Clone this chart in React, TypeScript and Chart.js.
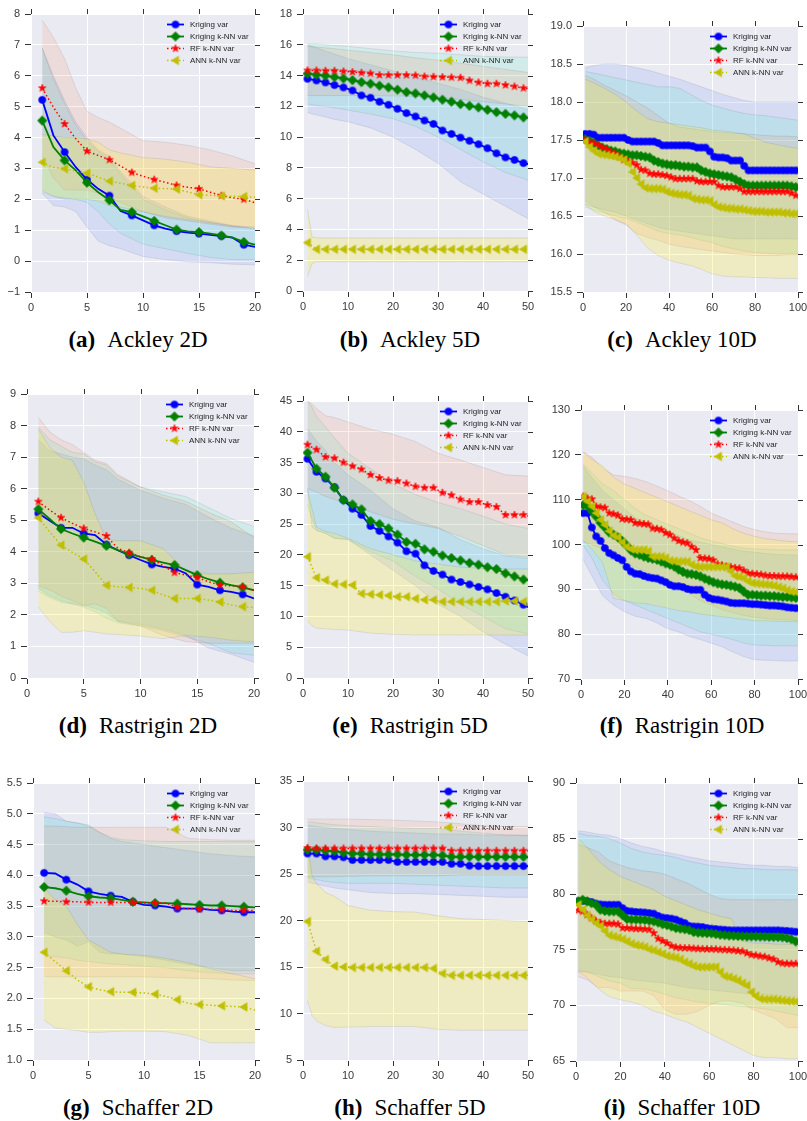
import React, { useEffect, useRef } from 'react';
import { Chart, registerables } from 'chart.js';
Chart.register(...registerables);
Chart.defaults.font.family = '"Liberation Sans", Arial, sans-serif';

// ---------------- x values ----------------
const X2 = [1,2,3,4,5,6,7,8,9,10,11,12,13,14,15,16,17,18,19,20];
const B2 = [1,2,3,4,5,6,7,8,10,12,14,16,18,20];
const X5 = [1,3,5,7,9,11,13,15,17,19,21,23,25,27,29,31,33,35,37,39,41,43,45,47,49,50];
const B5 = [1,2,3,5,7,10,15,20,25,30,35,40,45,50];
const X10 = [1,3,5,7,9,11,13,15,17,19,21,23,25,27,29,31,33,35,37,39,41,43,45,47,49,51,53,55,57,59,61,63,65,67,69,71,73,75,77,79,81,83,85,87,89,91,93,95,97,99,100];
const B10 = [1,5,10,15,20,25,30,35,40,45,50,55,60,65,70,75,80,85,90,95,100];

const SERIES_LABELS = ['Kriging var', 'Kriging k-NN var', 'RF k-NN var', 'ANN k-NN var'];

// ---------------- (a) Ackley 2D ----------------
const A_KRIG = [5.22,4.07,3.53,3.04,2.64,2.34,2.12,1.62,1.48,1.32,1.16,1.05,0.97,0.92,0.89,0.85,0.81,0.76,0.53,0.46];
const A_KNN = [4.55,3.69,3.26,2.94,2.54,2.23,1.97,1.66,1.59,1.45,1.30,1.16,1.02,0.96,0.94,0.89,0.83,0.76,0.62,0.53];
const A_RF = [5.60,4.98,4.44,3.96,3.56,3.42,3.28,3.08,2.87,2.75,2.64,2.55,2.45,2.39,2.34,2.23,2.12,2.05,2.00,1.89];
const A_ANN = [3.20,3.04,2.99,2.92,2.85,2.72,2.59,2.52,2.45,2.40,2.36,2.35,2.33,2.24,2.15,2.13,2.11,2.10,2.09,2.07];
const A_KRIG_HI = [6.9,6.0,5.2,4.5,4.0,3.6,3.4,2.9,2.1,1.75,1.45,1.3,1.15,1.05];
const A_KRIG_LO = [2.2,1.8,1.75,1.6,1.1,0.65,0.5,0.4,0.15,0.05,-0.02,-0.05,-0.1,-0.12];
const A_KNN_HI = [6.9,5.9,5.1,4.4,3.9,3.55,3.3,2.8,2.0,1.65,1.4,1.25,1.12,1.05];
const A_KNN_LO = [2.3,2.1,2.0,2.0,1.9,1.6,1.2,0.9,0.55,0.4,0.25,0.12,0.05,0.05];
const A_RF_HI = [7.8,7.25,6.55,5.6,4.85,4.65,4.5,4.3,3.9,3.85,3.75,3.6,3.4,3.15];
const A_RF_LO = [3.4,2.7,2.3,2.3,2.3,2.2,2.05,1.9,1.6,1.4,1.3,1.2,1.1,1.1];
const A_ANN_HI = [4.1,4.05,4.0,4.0,3.95,3.85,3.6,3.5,3.35,3.3,3.2,3.05,3.0,2.95];
const A_ANN_LO = [2.25,2.1,2.05,2.0,2.0,1.95,1.8,1.75,1.6,1.45,1.35,1.25,1.15,1.1];

// ---------------- (b) Ackley 5D ----------------
const B_KRIG = [13.79,13.68,13.55,13.38,13.23,13.03,12.71,12.56,12.30,12.10,11.84,11.56,11.34,11.08,10.86,10.43,10.21,9.97,9.76,9.54,9.28,8.95,8.68,8.52,8.31,8.25];
const B_KNN = [14.12,14.05,13.99,13.90,13.81,13.70,13.57,13.47,13.34,13.23,13.08,12.92,12.84,12.71,12.58,12.43,12.30,12.14,12.03,11.93,11.77,11.62,11.51,11.41,11.28,11.25];
const B_RF = [14.33,14.33,14.31,14.31,14.27,14.23,14.18,14.14,14.03,14.03,14.03,14.03,14.01,13.94,13.92,13.90,13.88,13.86,13.68,13.55,13.47,13.47,13.38,13.29,13.18,13.15];
const B_ANN = [3.14,2.71,2.71,2.71,2.71,2.71,2.71,2.71,2.71,2.71,2.71,2.71,2.71,2.71,2.71,2.71,2.71,2.71,2.71,2.71,2.71,2.71,2.71,2.71,2.71,2.71];
const B_KRIG_HI = [16.0,15.9,15.8,15.6,15.4,15.1,14.7,14.3,13.9,13.5,13.1,12.6,12.2,11.8];
const B_KRIG_LO = [11.6,11.5,11.45,11.3,11.15,11.0,10.6,10.0,9.2,8.3,7.1,6.3,5.5,4.7];
const B_KNN_HI = [16.05,16.05,16.05,16.0,15.95,15.9,15.75,15.6,15.5,15.45,15.35,15.25,15.2,15.2];
const B_KNN_LO = [12.15,12.1,12.05,12.0,11.9,11.75,11.5,11.2,10.7,10.0,9.2,8.4,7.7,7.2];
const B_RF_HI = [15.9,15.88,15.85,15.8,15.75,15.65,15.5,15.35,15.15,15.0,14.8,14.6,14.4,14.2];
const B_RF_LO = [12.7,12.7,12.7,12.7,12.7,12.7,12.7,12.68,12.65,12.6,12.45,12.3,12.15,12.0];
const B_ANN_HI = [5.3,3.5,3.45,3.45,3.45,3.45,3.45,3.45,3.45,3.45,3.45,3.45,3.45,3.45];
const B_ANN_LO = [0.93,1.8,1.9,1.9,1.9,1.9,1.9,1.9,1.9,1.9,1.9,1.9,1.9,1.9];

// ---------------- (c) Ackley 10D ----------------
const C_KRIG = [17.58,17.58,17.57,17.53,17.53,17.53,17.53,17.53,17.53,17.53,17.50,17.48,17.48,17.48,17.48,17.48,17.48,17.46,17.43,17.43,17.43,17.43,17.43,17.43,17.43,17.42,17.40,17.40,17.40,17.35,17.28,17.27,17.27,17.26,17.23,17.23,17.23,17.16,17.10,17.10,17.10,17.10,17.10,17.10,17.10,17.10,17.10,17.10,17.10,17.10,17.10];
const C_KNN = [17.51,17.49,17.46,17.43,17.40,17.38,17.36,17.35,17.33,17.32,17.31,17.30,17.30,17.29,17.28,17.27,17.23,17.21,17.19,17.18,17.17,17.17,17.16,17.15,17.15,17.14,17.14,17.10,17.08,17.06,17.05,17.04,17.03,17.02,17.01,16.98,16.95,16.92,16.90,16.90,16.90,16.90,16.90,16.90,16.90,16.90,16.90,16.90,16.89,16.88,16.88];
const C_RF = [17.50,17.47,17.46,17.43,17.40,17.38,17.34,17.32,17.28,17.24,17.22,17.20,17.17,17.11,17.10,17.06,17.05,17.05,17.04,17.03,17.01,16.99,16.99,16.99,16.99,16.99,16.96,16.95,16.95,16.95,16.95,16.90,16.88,16.88,16.88,16.88,16.86,16.82,16.82,16.82,16.82,16.82,16.82,16.82,16.82,16.82,16.82,16.82,16.80,16.77,16.77];
const C_ANN = [17.48,17.41,17.36,17.32,17.31,17.30,17.29,17.28,17.26,17.24,17.19,17.08,17.00,16.92,16.87,16.86,16.86,16.86,16.85,16.82,16.80,16.79,16.78,16.78,16.77,16.73,16.72,16.71,16.71,16.70,16.65,16.62,16.61,16.60,16.60,16.59,16.59,16.58,16.57,16.56,16.56,16.56,16.55,16.55,16.55,16.55,16.54,16.54,16.53,16.53,16.53];
const C_KRIG_HI = [18.45,18.48,18.50,18.50,18.48,18.45,18.42,18.38,18.34,18.30,18.25,18.20,18.15,18.10,18.06,18.02,18.00,18.00,18.00,18.00,18.00];
const C_KRIG_LO = [16.70,16.62,16.58,16.55,16.50,16.45,16.40,16.35,16.32,16.30,16.28,16.26,16.24,16.22,16.20,16.20,16.20,16.20,16.20,16.20,16.20];
const C_KNN_HI = [18.40,18.38,18.35,18.32,18.29,18.26,18.23,18.20,18.20,18.18,18.10,18.02,17.96,17.92,17.88,17.85,17.83,17.82,17.80,17.78,17.76];
const C_KNN_LO = [16.62,16.58,16.54,16.50,16.47,16.42,16.36,16.30,16.27,16.25,16.22,16.18,16.15,16.10,16.07,16.04,16.02,16.01,16.00,16.00,16.00];
const C_RF_HI = [18.35,18.30,18.22,18.15,18.08,18.00,17.92,17.82,17.72,17.67,17.65,17.63,17.61,17.60,17.59,17.58,17.57,17.56,17.55,17.55,17.54];
const C_RF_LO = [16.65,16.62,16.55,16.45,16.38,16.27,16.22,16.18,16.13,16.10,16.08,16.06,16.04,16.02,16.00,15.99,15.98,15.98,15.98,15.99,15.99];
const C_ANN_HI = [18.30,18.25,18.18,18.10,18.00,17.88,17.78,17.74,17.72,17.70,17.68,17.66,17.63,17.62,17.60,17.58,17.52,17.47,17.44,17.41,17.39];
const C_ANN_LO = [16.66,16.56,16.50,16.45,16.40,16.25,16.08,15.98,15.92,15.88,15.85,15.80,15.74,15.71,15.70,15.70,15.69,15.69,15.68,15.68,15.68];

// ---------------- (d) Rastrigin 2D ----------------
const D_KRIG = [5.22,4.98,4.76,4.76,4.58,4.53,4.23,4.05,3.89,3.74,3.60,3.52,3.47,3.31,2.96,2.89,2.78,2.73,2.65,2.52];
const D_KNN = [5.35,5.04,4.72,4.58,4.45,4.32,4.19,4.05,3.93,3.84,3.74,3.66,3.58,3.42,3.26,3.13,3.02,2.94,2.87,2.78];
const D_RF = [5.59,5.32,5.08,4.90,4.74,4.63,4.50,4.11,3.97,3.84,3.77,3.56,3.34,3.26,3.18,3.05,2.94,2.92,2.89,2.78];
const D_ANN = [5.08,4.63,4.21,3.98,3.77,3.37,2.94,2.89,2.87,2.84,2.78,2.63,2.52,2.52,2.52,2.47,2.41,2.31,2.26,2.24];
const D_KRIG_HI = [7.55,7.2,7.1,7.0,6.95,6.75,6.6,6.3,5.95,5.7,5.5,5.1,4.75,4.5];
const D_KRIG_LO = [2.85,2.6,2.45,2.35,2.3,2.2,2.05,1.8,1.7,1.55,1.35,0.95,0.75,0.5];
const D_KNN_HI = [7.95,7.55,7.35,7.15,7.1,6.85,6.75,6.4,6.05,5.9,5.75,5.4,5.05,4.8];
const D_KNN_LO = [2.75,2.55,2.4,2.35,2.25,2.1,1.9,1.75,1.65,1.5,1.3,1.1,0.8,0.72];
const D_RF_HI = [8.26,7.8,7.55,7.4,7.15,6.9,6.8,6.45,6.05,5.8,5.6,5.25,4.95,4.45];
const D_RF_LO = [2.92,2.8,2.6,2.45,2.3,2.35,2.2,1.8,1.65,1.35,1.15,1.1,1.1,1.1];
const D_ANN_HI = [7.9,7.3,7.0,6.9,6.2,5.2,4.4,4.35,4.35,4.1,3.4,3.3,3.3,3.35];
const D_ANN_LO = [2.25,1.8,1.45,1.45,1.5,1.45,1.4,1.38,1.33,1.25,1.35,1.3,1.2,1.15];

// ---------------- (e) Rastrigin 5D ----------------
const E_KRIG = [35.6,33.5,32.4,31.0,28.9,27.5,26.5,24.7,23.9,23.0,22.0,20.6,20.2,18.3,17.4,16.8,16.0,15.6,15.2,14.8,14.4,13.8,13.2,12.6,11.9,11.5];
const E_KNN = [36.6,34.0,32.7,30.9,28.9,28.2,27.4,25.5,25.0,24.3,23.3,22.1,21.8,20.9,20.5,19.9,19.5,19.1,18.7,18.4,18.0,17.7,17.0,16.5,16.0,15.9];
const E_RF = [37.9,37.1,35.9,35.7,35.0,34.4,33.9,33.0,32.5,32.1,32.0,31.6,31.1,30.9,30.9,30.1,29.7,29.0,28.6,28.6,28.1,27.8,26.5,26.5,26.5,26.3];
const E_ANN = [19.7,16.3,15.9,15.3,15.2,15.1,13.7,13.6,13.5,13.4,13.2,13.2,12.9,12.7,12.7,12.4,12.4,12.4,12.4,12.4,12.4,12.4,12.5,12.5,12.4,12.4];
const E_KRIG_HI = [40.5,39.5,38.5,37.0,35.0,33.0,30.5,27.5,25.5,24.5,22.5,21.0,19.8,19.4];
const E_KRIG_LO = [30.7,24.5,24.0,23.5,22.7,22.5,20.0,17.5,15.0,12.0,10.0,7.5,5.5,3.6];
const E_KNN_HI = [45.0,44.0,42.5,40.8,39.0,36.5,34.0,31.5,29.8,28.5,27.5,26.3,25.0,24.3];
const E_KNN_LO = [28.2,26.0,24.0,23.5,22.7,22.5,20.5,19.0,16.5,14.5,12.0,10.0,8.0,7.2];
const E_RF_HI = [45.0,44.5,43.8,42.6,42.3,41.6,40.4,39.6,38.4,36.5,35.4,34.2,33.0,32.8];
const E_RF_LO = [30.8,30.5,30.2,29.5,29.0,28.3,27.0,25.8,25.0,24.3,23.0,21.5,20.0,19.6];
const E_ANN_HI = [30.5,27.5,24.5,23.8,23.5,22.7,21.0,20.0,19.0,18.5,18.0,17.8,17.7,17.7];
const E_ANN_LO = [9.3,8.5,8.1,8.0,7.9,7.8,7.3,7.1,7.0,7.0,7.0,7.0,7.0,7.0];

// ---------------- (f) Rastrigin 10D ----------------
const F_KRIG = [107.0,107.0,103.8,101.8,100.8,99.2,98.1,97.6,97.0,96.5,95.0,94.0,93.5,93.4,93.0,92.7,92.5,92.4,92.0,91.6,91.0,90.7,90.7,90.5,90.1,89.9,89.9,89.9,88.8,88.1,87.8,87.7,87.5,87.3,87.0,86.9,86.9,86.9,86.8,86.7,86.7,86.6,86.5,86.4,86.4,86.3,86.2,86.0,85.9,85.8,85.8];
const F_KNN = [108.8,108.5,107.4,106.2,104.8,103.8,102.7,102.2,101.6,100.8,99.8,98.7,98.0,97.7,97.3,97.0,96.8,96.6,96.2,95.8,95.5,95.1,94.4,93.9,93.5,93.4,93.2,92.9,92.4,92.0,91.6,91.3,91.1,91.0,90.8,90.6,90.3,89.5,88.8,88.8,88.7,88.6,88.6,88.5,88.5,88.4,88.3,88.3,88.2,88.1,88.1];
const F_RF = [110.7,110.3,110.1,108.5,108.3,108.2,107.0,106.8,106.5,105.7,105.6,105.5,104.8,104.7,104.6,104.5,103.6,103.5,103.3,102.6,102.2,101.4,100.8,100.5,100.3,99.5,98.8,97.0,96.9,96.8,96.5,95.6,95.4,95.1,95.0,94.8,94.7,94.2,93.6,93.5,93.4,93.3,93.1,93.0,93.0,92.9,92.9,92.9,92.8,92.7,92.7];
const F_ANN = [110.7,109.6,108.5,107.0,105.5,104.4,103.0,102.0,101.6,100.5,99.5,99.0,98.8,98.8,98.8,98.5,97.3,97.3,97.3,97.0,96.4,96.3,96.2,96.2,96.2,95.5,95.1,95.0,95.0,95.0,95.0,95.0,95.0,95.0,94.0,93.0,92.8,92.5,91.8,91.4,91.3,91.2,91.1,91.0,90.8,90.5,90.2,89.8,89.5,89.4,89.4];
const F_KRIG_HI = [117.5,115.0,112.0,110.0,108.0,106.0,105.0,104.0,103.0,102.0,101.0,100.5,100.0,99.5,99.0,98.5,98.3,98.0,97.8,97.7,97.6];
const F_KRIG_LO = [96.7,93.0,88.5,86.5,85.0,84.0,83.5,82.5,81.2,80.5,79.5,78.8,78.0,77.2,76.0,75.0,74.3,74.2,74.1,74.0,74.0];
const F_KNN_HI = [118.0,116.0,113.5,112.0,110.0,108.0,106.5,105.5,104.5,103.5,102.5,101.5,100.8,100.2,99.6,99.2,99.0,98.9,98.8,98.8,98.8];
const F_KNN_LO = [99.8,97.0,92.0,89.0,87.5,86.5,85.5,84.5,83.5,82.5,81.5,80.5,80.0,79.4,78.8,78.0,77.6,77.5,77.4,77.4,77.4];
const F_RF_HI = [120.7,119.5,117.0,115.5,115.2,114.7,114.0,113.0,112.0,110.8,109.8,108.5,107.0,106.0,105.0,104.0,103.3,102.8,102.5,102.4,102.4];
const F_RF_LO = [100.7,100.0,99.0,97.0,96.0,95.0,94.0,93.0,92.0,90.5,89.0,87.5,86.5,85.5,84.8,84.2,83.8,83.5,83.3,83.2,83.0];
const F_ANN_HI = [120.5,119.0,117.5,115.0,113.5,112.5,111.5,110.5,109.5,108.5,107.5,106.5,105.5,104.8,103.5,102.5,101.8,101.3,101.0,100.7,100.6];
const F_ANN_LO = [101.0,99.0,96.0,88.0,87.5,87.0,86.8,86.3,85.8,85.3,85.0,84.5,84.2,83.9,83.6,83.3,83.0,83.0,82.9,82.8,82.8];

// ---------------- (g) Schaffer 2D ----------------
const G_KRIG = [4.04,4.03,3.93,3.85,3.74,3.70,3.67,3.65,3.57,3.52,3.51,3.49,3.46,3.46,3.46,3.44,3.43,3.41,3.40,3.40];
const G_KNN = [3.81,3.79,3.75,3.70,3.66,3.64,3.63,3.60,3.57,3.56,3.55,3.55,3.54,3.53,3.52,3.51,3.51,3.50,3.49,3.48];
const G_RF = [3.58,3.58,3.57,3.57,3.56,3.56,3.56,3.56,3.56,3.55,3.55,3.55,3.48,3.46,3.45,3.45,3.44,3.43,3.43,3.43];
const G_ANN = [2.75,2.60,2.45,2.30,2.19,2.14,2.11,2.10,2.10,2.09,2.07,2.03,1.98,1.92,1.90,1.89,1.88,1.87,1.86,1.81];
const G_KRIG_HI = [5.02,5.0,4.88,4.85,4.8,4.7,4.6,4.55,4.5,4.45,4.4,4.35,4.32,4.3];
const G_KRIG_LO = [3.07,3.0,2.95,2.85,2.92,2.75,2.72,2.72,2.68,2.62,2.55,2.5,2.45,2.45];
const G_KNN_HI = [4.95,4.92,4.88,4.85,4.82,4.7,4.62,4.58,4.56,4.55,4.55,4.55,4.55,4.55];
const G_KNN_LO = [2.69,2.68,2.66,2.62,2.6,2.58,2.56,2.55,2.52,2.5,2.45,2.42,2.4,2.4];
const G_RF_HI = [4.8,4.8,4.79,4.78,4.78,4.78,4.78,4.78,4.78,4.78,4.6,4.58,4.57,4.57];
const G_RF_LO = [2.36,2.35,2.35,2.35,2.35,2.35,2.35,2.35,2.35,2.34,2.33,2.32,2.3,2.29];
const G_ANN_HI = [3.8,3.6,3.5,3.2,2.95,2.85,2.75,2.72,2.7,2.65,2.58,2.48,2.4,2.32];
const G_ANN_LO = [1.65,1.52,1.5,1.48,1.45,1.45,1.46,1.47,1.47,1.46,1.4,1.28,1.28,1.28];

// ---------------- (h) Schaffer 5D ----------------
const H_KRIG = [27.2,27.2,26.9,26.9,26.8,26.5,26.5,26.5,26.5,26.5,26.3,26.3,26.3,26.3,26.3,26.3,26.1,26.1,25.9,25.85,25.85,25.85,25.85,25.85,25.85,25.85];
const H_KNN = [27.6,27.6,27.5,27.45,27.3,27.2,27.2,27.1,27.1,27.1,27.1,27.05,27.05,27.05,27.05,27.0,26.85,26.85,26.85,26.85,26.85,26.85,26.85,26.85,26.85,26.8];
const H_RF = [27.8,27.75,27.75,27.75,27.75,27.75,27.75,27.75,27.75,27.75,27.75,27.75,27.75,27.75,27.75,27.75,27.5,27.5,27.5,27.5,27.5,27.5,27.5,27.5,27.5,27.5];
const H_ANN = [19.9,16.7,15.8,15.1,15.0,14.95,14.95,14.95,14.95,14.95,14.95,14.95,14.95,14.95,14.85,14.3,14.1,14.1,14.1,14.1,14.1,14.1,14.1,14.1,14.1,14.1];
const H_KRIG_HI = [30.2,30.2,30.1,30.0,29.9,29.8,29.6,29.5,29.4,29.3,29.3,29.2,29.2,29.2];
const H_KRIG_LO = [24.2,24.0,23.9,23.7,23.5,23.3,23.0,22.9,22.9,22.8,22.7,22.6,22.5,22.5];
const H_KNN_HI = [30.6,30.6,30.5,30.4,30.3,30.2,30.1,30.0,29.9,29.9,29.6,29.4,29.2,29.1];
const H_KNN_LO = [24.6,24.5,24.4,24.2,24.1,24.0,24.0,24.0,23.9,23.8,23.7,23.6,23.5,23.5];
const H_RF_HI = [30.9,30.9,30.9,30.9,30.9,30.9,30.85,30.8,30.7,30.6,30.4,30.2,30.1,30.1];
const H_RF_LO = [24.7,24.7,24.7,24.7,24.7,24.75,24.8,24.8,24.8,24.8,24.9,24.9,24.9,24.9];
const H_ANN_HI = [28.4,24.8,24.0,23.0,22.6,21.6,21.1,20.95,20.9,20.5,20.2,20.1,20.0,19.9];
const H_ANN_LO = [11.4,9.8,9.2,8.7,8.5,8.55,8.6,8.6,8.6,8.3,8.2,8.2,8.2,8.2];

// ---------------- (i) Schaffer 10D ----------------
const I_KRIG = [79.36,79.40,79.38,79.30,79.15,79.08,79.05,79.05,79.05,79.05,78.75,78.50,78.45,78.40,78.38,78.35,78.30,78.25,78.05,77.90,77.85,77.80,77.71,77.55,77.40,77.15,77.10,77.08,77.05,76.95,76.90,76.87,76.82,76.80,76.76,76.75,76.75,76.75,76.75,76.75,76.75,76.75,76.75,76.75,76.75,76.75,76.72,76.70,76.66,76.62,76.60];
const I_KNN = [79.36,79.50,79.35,79.20,79.05,78.60,78.50,78.45,78.45,78.45,78.10,77.77,77.72,77.72,77.70,77.68,77.62,77.56,77.45,77.30,77.22,77.10,76.96,76.90,76.85,76.78,76.60,76.55,76.52,76.50,76.48,76.42,76.35,76.32,76.28,76.26,76.24,76.22,76.20,76.20,76.20,76.18,76.18,76.16,76.15,76.15,76.12,76.06,75.95,75.75,75.67];
const I_RF = [78.55,78.45,78.15,77.85,77.60,77.45,77.35,77.35,77.35,77.30,76.96,76.95,76.92,76.90,76.88,76.85,76.82,76.50,76.00,75.80,75.60,75.35,75.22,75.18,75.16,75.15,75.12,75.10,75.08,75.07,75.06,75.05,75.02,75.00,74.98,74.95,74.90,74.86,74.70,74.55,74.50,74.42,74.38,74.25,74.15,73.90,73.78,73.76,73.75,73.75,73.75];
const I_ANN = [79.05,78.60,78.10,77.75,77.40,77.15,76.70,76.30,76.20,76.10,75.95,75.76,75.55,75.42,75.35,75.25,75.05,74.95,74.80,74.65,74.45,74.38,74.30,74.15,73.90,73.75,73.55,73.45,73.45,73.45,73.45,73.45,73.00,72.62,72.55,72.40,72.25,72.00,71.80,71.20,70.85,70.60,70.55,70.55,70.55,70.50,70.45,70.40,70.38,70.36,70.36];
const I_KRIG_HI = [85.7,85.6,85.4,85.3,85.0,84.6,84.3,84.1,83.8,83.6,83.4,83.2,83.0,82.9,82.8,82.7,82.6,82.6,82.5,82.5,82.4];
const I_KRIG_LO = [73.0,73.0,72.8,72.6,72.5,72.3,72.2,72.1,72.0,71.8,71.6,71.5,71.4,71.3,71.2,71.1,71.0,71.0,70.9,70.8,70.8];
const I_KNN_HI = [85.5,85.3,85.2,85.0,84.6,84.1,83.8,83.6,83.5,83.3,83.0,82.8,82.6,82.5,82.4,82.3,82.3,82.2,82.2,82.2,82.2];
const I_KNN_LO = [73.2,73.0,72.6,72.2,72.0,71.5,71.5,71.3,71.0,70.7,70.5,70.3,70.2,70.1,70.0,69.9,69.8,69.7,69.5,69.3,69.1];
const I_RF_HI = [84.5,84.2,83.8,83.0,82.6,82.3,82.1,82.0,81.8,81.4,81.0,80.5,80.0,79.6,79.5,79.5,79.5,79.5,79.5,79.5,79.5];
const I_RF_LO = [72.6,72.3,71.6,71.6,71.3,71.3,71.3,70.9,69.6,69.2,69.2,69.5,70.0,70.4,70.4,70.2,69.6,69.2,68.8,68.0,68.0];
const I_ANN_HI = [85.0,84.2,83.0,82.2,81.6,81.2,80.8,80.4,79.8,79.4,79.0,78.6,78.3,78.0,77.8,75.8,75.6,75.6,75.5,75.5,75.5];
const I_ANN_LO = [73.1,72.5,71.5,70.8,70.5,70.3,70.0,69.5,69.2,68.8,68.5,68.0,67.5,67.0,66.5,66.0,65.5,65.3,65.3,65.2,65.2];

// ---------------- styles ----------------
const STYLES = [
  { color: '#0000ff', fill: 'rgba(80,130,255,0.14)', dash: [], width: 1.8, marker: 'circle' },
  { color: '#008000', fill: 'rgba(60,240,190,0.15)', dash: [], width: 1.8, marker: 'diamond' },
  { color: '#ff0000', fill: 'rgba(255,120,70,0.13)', dash: [1.5, 2.5], width: 1.5, marker: 'star' },
  { color: '#bfbf00', fill: 'rgba(250,240,50,0.25)', dash: [1.5, 2.5], width: 1.5, marker: 'tri' },
];

const PANELS = [
  { rect: [31, 14, 255, 292], xMax: 20, xStep: 5, yMin: -1, yMax: 8, yStep: 1, dec: 0, mx: X2, bx: B2, marks: 'odd',
    means: [A_KRIG, A_KNN, A_RF, A_ANN], bands: [[A_KRIG_LO, A_KRIG_HI], [A_KNN_LO, A_KNN_HI], [A_RF_LO, A_RF_HI], [A_ANN_LO, A_ANN_HI]],
    tag: '(a)', title: 'Ackley 2D', cx: 138, cy: 328 },
  { rect: [303, 14, 528, 291], xMax: 50, xStep: 10, yMin: 0, yMax: 18, yStep: 2, dec: 0, mx: X5, bx: B5, marks: 'most',
    means: [B_KRIG, B_KNN, B_RF, B_ANN], bands: [[B_KRIG_LO, B_KRIG_HI], [B_KNN_LO, B_KNN_HI], [B_RF_LO, B_RF_HI], [B_ANN_LO, B_ANN_HI]],
    tag: '(b)', title: 'Ackley 5D', cx: 410, cy: 328 },
  { rect: [583, 26, 798, 292], xMax: 100, xStep: 20, yMin: 15.5, yMax: 19, yStep: 0.5, dec: 1, mx: X10, bx: B10, marks: 'most',
    means: [C_KRIG, C_KNN, C_RF, C_ANN], bands: [[C_KRIG_LO, C_KRIG_HI], [C_KNN_LO, C_KNN_HI], [C_RF_LO, C_RF_HI], [C_ANN_LO, C_ANN_HI]],
    tag: '(c)', title: 'Ackley 10D', cx: 682, cy: 328 },
  { rect: [27, 394, 254, 678], xMax: 20, xStep: 5, yMin: 0, yMax: 9, yStep: 1, dec: 0, mx: X2, bx: B2, marks: 'odd',
    means: [D_KRIG, D_KNN, D_RF, D_ANN], bands: [[D_KRIG_LO, D_KRIG_HI], [D_KNN_LO, D_KNN_HI], [D_RF_LO, D_RF_HI], [D_ANN_LO, D_ANN_HI]],
    tag: '(d)', title: 'Rastrigin 2D', cx: 138, cy: 714 },
  { rect: [303, 401, 528, 678], xMax: 50, xStep: 10, yMin: 0, yMax: 45, yStep: 5, dec: 0, mx: X5, bx: B5, marks: 'most',
    means: [E_KRIG, E_KNN, E_RF, E_ANN], bands: [[E_KRIG_LO, E_KRIG_HI], [E_KNN_LO, E_KNN_HI], [E_RF_LO, E_RF_HI], [E_ANN_LO, E_ANN_HI]],
    tag: '(e)', title: 'Rastrigin 5D', cx: 410, cy: 714 },
  { rect: [581, 410, 798, 679], xMax: 100, xStep: 20, yMin: 70, yMax: 130, yStep: 10, dec: 0, mx: X10, bx: B10, marks: 'most',
    means: [F_KRIG, F_KNN, F_RF, F_ANN], bands: [[F_KRIG_LO, F_KRIG_HI], [F_KNN_LO, F_KNN_HI], [F_RF_LO, F_RF_HI], [F_ANN_LO, F_ANN_HI]],
    tag: '(f)', title: 'Rastrigin 10D', cx: 682, cy: 714 },
  { rect: [33, 783, 255, 1060], xMax: 20, xStep: 5, yMin: 1, yMax: 5.5, yStep: 0.5, dec: 1, mx: X2, bx: B2, marks: 'odd',
    means: [G_KRIG, G_KNN, G_RF, G_ANN], bands: [[G_KRIG_LO, G_KRIG_HI], [G_KNN_LO, G_KNN_HI], [G_RF_LO, G_RF_HI], [G_ANN_LO, G_ANN_HI]],
    tag: '(g)', title: 'Schaffer 2D', cx: 138, cy: 1096 },
  { rect: [303, 781, 528, 1060], xMax: 50, xStep: 10, yMin: 5, yMax: 35, yStep: 5, dec: 0, mx: X5, bx: B5, marks: 'most',
    means: [H_KRIG, H_KNN, H_RF, H_ANN], bands: [[H_KRIG_LO, H_KRIG_HI], [H_KNN_LO, H_KNN_HI], [H_RF_LO, H_RF_HI], [H_ANN_LO, H_ANN_HI]],
    tag: '(h)', title: 'Schaffer 5D', cx: 410, cy: 1096 },
  { rect: [576, 783, 798, 1061], xMax: 100, xStep: 20, yMin: 65, yMax: 90, yStep: 5, dec: 0, mx: X10, bx: B10, marks: 'most',
    means: [I_KRIG, I_KNN, I_RF, I_ANN], bands: [[I_KRIG_LO, I_KRIG_HI], [I_KNN_LO, I_KNN_HI], [I_RF_LO, I_RF_HI], [I_ANN_LO, I_ANN_HI]],
    tag: '(i)', title: 'Schaffer 10D', cx: 682, cy: 1096 },
];

const LP = 44, TP = 12, RP = 14, BP = 28;
const TICK_COLOR = '#333333';
const LABEL_COLOR = '#3a3a3a';

function markerPath(g: CanvasRenderingContext2D, kind: string, x: number, y: number) {
  g.beginPath();
  if (kind === 'circle') {
    g.arc(x, y, 3.6, 0, Math.PI * 2);
  } else if (kind === 'diamond') {
    g.moveTo(x, y - 4.7); g.lineTo(x + 4.7, y); g.lineTo(x, y + 4.7); g.lineTo(x - 4.7, y); g.closePath();
  } else if (kind === 'star') {
    for (let k = 0; k < 10; k++) {
      const ang = -Math.PI / 2 + (k * Math.PI) / 5;
      const r = k % 2 === 0 ? 4.0 : 1.6;
      const px = x + r * Math.cos(ang), py = y + r * Math.sin(ang);
      if (k === 0) g.moveTo(px, py); else g.lineTo(px, py);
    }
    g.closePath();
  } else {
    g.moveTo(x - 4.2, y); g.lineTo(x + 3.1, y - 4.3); g.lineTo(x + 3.1, y + 4.3); g.closePath();
  }
}

function makeMarker(kind: string, color: string): HTMLCanvasElement {
  const c = document.createElement('canvas');
  c.width = 14; c.height = 14;
  const g = c.getContext('2d')!;
  markerPath(g, kind, 7, 7);
  g.fillStyle = color; g.fill();
  g.lineWidth = 0.6; g.strokeStyle = color; g.stroke();
  return c;
}

const fmt = (v: number, dec: number) => Number(v).toFixed(dec).replace('-', '\u2212');

function PanelChart({ p }: { p: any }) {
  const ref = useRef<HTMLCanvasElement>(null);
  const [l, t, r, b] = p.rect;
  const W = r - l + LP + RP;
  const H = b - t + TP + BP;
  useEffect(() => {
    const markers = STYLES.map((s) => makeMarker(s.marker, s.color));
    const n = p.mx.length;
    const showMark = (i: number) => (p.marks === 'odd' ? i % 2 === 0 : i < n - 1);
    const datasets: any[] = [];
    p.means.forEach((m: number[], i: number) => {
      const s = STYLES[i];
      datasets.push({
        label: SERIES_LABELS[i],
        data: p.mx.map((x: number, k: number) => ({ x, y: m[k] })),
        borderColor: s.color, backgroundColor: s.color, borderWidth: s.width, borderDash: s.dash,
        pointStyle: markers[i], pointRadius: (ctx: any) => (showMark(ctx.dataIndex) ? 4 : 0),
        pointHoverRadius: 0, fill: false, tension: 0, order: 3 - i,
      });
    });
    p.bands.forEach((bd: number[][], i: number) => {
      const s = STYLES[i];
      const [lo, hi] = bd;
      datasets.push({
        label: SERIES_LABELS[i] + ' hi',
        data: p.bx.map((x: number, k: number) => ({ x, y: hi[k] })),
        borderColor: 'rgba(70,70,80,0.15)', borderWidth: 0.8, backgroundColor: s.fill,
        fill: '+1', pointRadius: 0, tension: 0, order: 13 - i,
      });
      datasets.push({
        label: SERIES_LABELS[i] + ' lo',
        data: p.bx.map((x: number, k: number) => ({ x, y: lo[k] })),
        borderColor: 'rgba(70,70,80,0.15)', borderWidth: 0.8, backgroundColor: s.fill,
        fill: false, pointRadius: 0, tension: 0, order: 13 - i,
      });
    });

    const decor = {
      id: 'decor',
      beforeDraw(chart: any) {
        const { ctx, chartArea: a } = chart;
        ctx.save();
        ctx.fillStyle = '#EAEAF2';
        ctx.fillRect(a.left, a.top, a.right - a.left, a.bottom - a.top);
        ctx.restore();
      },
      afterDraw(chart: any) {
        const { ctx, chartArea: a, scales } = chart;
        ctx.save();
        ctx.strokeStyle = TICK_COLOR; ctx.lineWidth = 1; ctx.setLineDash([]);
        ctx.beginPath();
        scales.x.ticks.forEach((tk: any) => {
          const px = Math.round(scales.x.getPixelForValue(tk.value)) + 0.5;
          ctx.moveTo(px, a.top); ctx.lineTo(px, a.top - 5);
        });
        scales.y.ticks.forEach((tk: any) => {
          const py = Math.round(scales.y.getPixelForValue(tk.value)) + 0.5;
          ctx.moveTo(a.right, py); ctx.lineTo(a.right + 5, py);
        });
        ctx.stroke();
        // legend
        ctx.font = '8px "Liberation Sans", Arial, sans-serif';
        ctx.textBaseline = 'middle';
        ctx.textAlign = 'left';
        SERIES_LABELS.forEach((lab, i) => {
          const s = STYLES[i];
          const y = a.top + 10.5 + i * 12;
          ctx.strokeStyle = s.color; ctx.lineWidth = s.width; ctx.setLineDash(s.dash);
          ctx.beginPath(); ctx.moveTo(a.right - 88, y); ctx.lineTo(a.right - 71, y); ctx.stroke();
          ctx.setLineDash([]);
          ctx.drawImage(markers[i], a.right - 79.5 - 7, y - 7);
          ctx.fillStyle = '#262626';
          ctx.fillText(lab, a.right - 65, y);
        });
        ctx.restore();
      },
    };

    const axisCommon = {
      type: 'linear',
      border: { display: false },
      grid: { color: '#ffffff', lineWidth: 1, tickColor: TICK_COLOR, tickLength: 6, drawTicks: true },
    };
    const chart = new Chart(ref.current!, {
      type: 'line',
      data: { datasets },
      plugins: [decor],
      options: {
        animation: false, responsive: false, devicePixelRatio: 1,
        layout: { padding: { top: TP, right: RP, left: 0, bottom: 0 } },
        plugins: { legend: { display: false }, tooltip: { enabled: false } },
        events: [],
        scales: {
          x: {
            ...axisCommon, min: 0, max: p.xMax,
            ticks: { stepSize: p.xStep, color: LABEL_COLOR, font: { size: 11 }, padding: 3, maxRotation: 0, autoSkip: false,
              callback: (v: any) => fmt(v, 0) },
            afterFit: (s: any) => { s.height = BP; },
          },
          y: {
            ...axisCommon, min: p.yMin, max: p.yMax,
            ticks: { stepSize: p.yStep, color: LABEL_COLOR, font: { size: 11 }, padding: 5, autoSkip: false,
              callback: (v: any) => fmt(v, p.dec) },
            afterFit: (s: any) => { s.width = LP; },
          },
        },
      } as any,
    } as any);
    return () => chart.destroy();
  }, []);
  return (
    <canvas ref={ref} width={W} height={H}
      style={{ position: 'absolute', left: l - LP, top: t - TP, width: W, height: H }} />
  );
}

export default function App() {
  return (
    <div style={{ position: 'absolute', left: 0, top: 0, width: 807, height: 1121, overflow: 'hidden', background: '#fff' }}>
      {PANELS.map((p, i) => <PanelChart key={i} p={p} />)}
      {PANELS.map((p, i) => (
        <div key={'c' + i} style={{
          position: 'absolute', left: p.cx - 150, width: 300, top: p.cy, textAlign: 'center',
          fontFamily: '"Liberation Serif", "Times New Roman", serif', fontSize: 23, lineHeight: '23px',
          color: '#000', whiteSpace: 'nowrap',
        }}>
          <b style={{ marginRight: 12 }}>{p.tag}</b>{p.title}
        </div>
      ))}
    </div>
  );
}
